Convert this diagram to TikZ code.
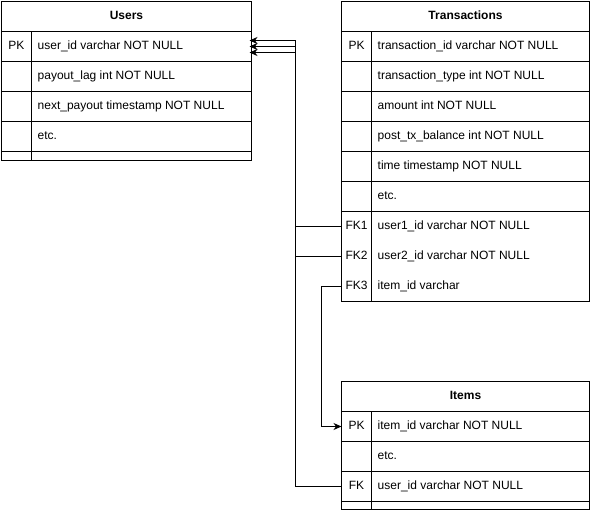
\documentclass[tikz,border=0pt]{standalone}
\usepackage{fontspec}
\setmainfont{Liberation Sans}
\usetikzlibrary{arrows.meta}
\tikzset{
  frame/.style={draw=black, line width=1pt},
  rowbox/.style={anchor=north west, minimum width=248pt, minimum height=30pt, inner sep=0pt, outer sep=0pt},
  keytxt/.style={anchor=center, inner sep=0pt, font=\fontsize{12}{14}\selectfont, text height=8.6pt, text depth=2.4pt},
  fieldtxt/.style={anchor=west, inner sep=0pt, font=\fontsize{12}{14}\selectfont, text height=8.6pt, text depth=2.4pt},
  titletxt/.style={anchor=center, inner sep=0pt, font=\fontsize{12}{14}\selectfont\bfseries, text height=8.6pt, text depth=2.4pt},
  rel/.style={draw=black, line width=1pt, -{Stealth[length=8pt,width=7pt,inset=2.5pt]}},
}
% one table row: name, left x, top y, key label, field text
\newcommand\erow[5]{%
  \node[rowbox] (#1) at (#2,#3) {};
  \node[keytxt] (#1-k) at ([xshift=15pt]#1.west) {#4};
  \node[fieldtxt] (#1-f) at ([xshift=36pt]#1.west) {#5};
}
\begin{document}
\begin{tikzpicture}[x=1pt,y=-1pt]
\useasboundingbox (0,0) rectangle (591,511);
\begin{scope}[shift={(1.5,1.5)}]

% ---- Users ----
\draw[frame] (0,0) rectangle (250,159);
\draw[frame] (0,30) -- (250,30) (0,60) -- (250,60) (0,90) -- (250,90)
  (0,120) -- (250,120) (0,150) -- (250,150) (30,30) -- (30,159);
\node[titletxt] (uhead) at (125,15) {Users};
\erow{upk}{0}{30}{PK}{user\_id varchar NOT NULL}
\erow{ulag}{0}{60}{}{payout\_lag int NOT NULL}
\erow{unext}{0}{90}{}{next\_payout timestamp NOT NULL}
\erow{uetc}{0}{120}{}{etc.}

% ---- Transactions ----
\draw[frame] (340,0) rectangle (588,300);
\draw[frame] (340,30) -- (588,30) (340,60) -- (588,60) (340,90) -- (588,90)
  (340,120) -- (588,120) (340,150) -- (588,150) (340,180) -- (588,180)
  (340,210) -- (588,210) (370,30) -- (370,300);
\node[titletxt] (thead) at (464,15) {Transactions};
\erow{tpk}{340}{30}{PK}{transaction\_id varchar NOT NULL}
\erow{ttype}{340}{60}{}{transaction\_type int NOT NULL}
\erow{tamt}{340}{90}{}{amount int NOT NULL}
\erow{tbal}{340}{120}{}{post\_tx\_balance int NOT NULL}
\erow{ttime}{340}{150}{}{time timestamp NOT NULL}
\erow{tetc}{340}{180}{}{etc.}
\erow{tfk1}{340}{210}{FK1}{user1\_id varchar NOT NULL}
\erow{tfk2}{340}{240}{FK2}{user2\_id varchar NOT NULL}
\erow{tfk3}{340}{270}{FK3}{item\_id varchar}

% ---- Items ----
\draw[frame] (340,380) rectangle (588,508);
\draw[frame] (340,410) -- (588,410) (340,440) -- (588,440) (340,470) -- (588,470)
  (340,500) -- (588,500) (370,410) -- (370,508);
\node[titletxt] (ihead) at (464,395) {Items};
\erow{ipk}{340}{410}{PK}{item\_id varchar NOT NULL}
\erow{ietc}{340}{440}{}{etc.}
\erow{ifk}{340}{470}{FK}{user\_id varchar NOT NULL}

% ---- relationships ----
\draw[rel] (ifk.west) -- ++(-46,0) |- ([yshift=6pt]upk.east);
\draw[rel] (tfk1.west) -- ++(-46,0) |- (upk.east);
\draw[rel] (tfk2.west) -- ++(-46,0) |- ([yshift=-6pt]upk.east);
\draw[rel] (tfk3.west) -- ++(-20,0) |- (ipk.west);
\end{scope}
\end{tikzpicture}
\end{document}
